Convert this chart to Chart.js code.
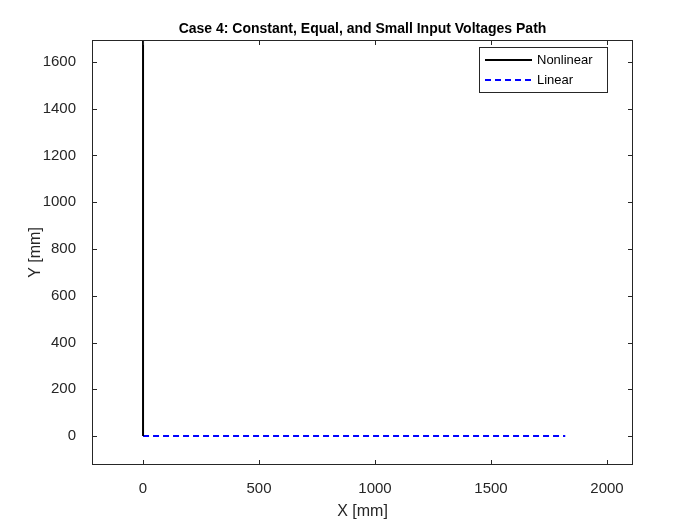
<!DOCTYPE html>
<html>
<head>
<script src="https://cdn.jsdelivr.net/npm/chart.js@4"></script>
<style>body{margin:0;background:#fff}#wrap{width:700px;height:525px}</style>
</head>
<body>
<div id="wrap"><canvas id="c"></canvas></div>
<script>
var xTicks = [0, 500, 1000, 1500, 2000];
var yTicks = [0, 200, 400, 600, 800, 1000, 1200, 1400, 1600];
var nonlinearX = [0, 0];
var nonlinearY = [0, 1750];
var linearX = [0, 1820];
var linearY = [0, 0];

function pts(xs, ys) { return xs.map(function (x, i) { return {x: x, y: ys[i]}; }); }

var frame = {
  id: 'frame',
  afterDraw: function (chart) {
    var ctx = chart.ctx, a = chart.chartArea, sx = chart.scales.x, sy = chart.scales.y;
    ctx.save();
    ctx.strokeStyle = '#262626';
    ctx.lineWidth = 1;
    ctx.strokeRect(a.left + 0.5, a.top + 0.5, a.right - a.left - 1, a.bottom - a.top - 1);
    ctx.beginPath();
    xTicks.forEach(function (t) {
      var p = Math.round(sx.getPixelForValue(t)) + 0.5;
      ctx.moveTo(p, a.bottom); ctx.lineTo(p, a.bottom - 5);
      ctx.moveTo(p, a.top); ctx.lineTo(p, a.top + 5);
    });
    yTicks.forEach(function (t) {
      var p = Math.round(sy.getPixelForValue(t)) + 0.5;
      ctx.moveTo(a.left, p); ctx.lineTo(a.left + 5, p);
      ctx.moveTo(a.right, p); ctx.lineTo(a.right - 5, p);
    });
    ctx.stroke();
    // title
    ctx.fillStyle = '#000';
    ctx.font = 'bold 14px Arial, "Liberation Sans"';
    ctx.textAlign = 'center';
    ctx.textBaseline = 'bottom';
    ctx.fillText('Case 4: Constant, Equal, and Small Input Voltages Path', (a.left + a.right) / 2, a.top - 4);
    // legend
    var lx = 479, ly = 47, lw = 128, lh = 45;
    ctx.fillStyle = '#fff';
    ctx.fillRect(lx, ly, lw, lh);
    ctx.strokeStyle = '#262626';
    ctx.strokeRect(lx + 0.5, ly + 0.5, lw, lh);
    ctx.lineWidth = 2;
    ctx.strokeStyle = '#000';
    ctx.beginPath(); ctx.moveTo(485, 60); ctx.lineTo(532, 60); ctx.stroke();
    ctx.strokeStyle = '#0000ff';
    ctx.setLineDash([6, 4]);
    ctx.beginPath(); ctx.moveTo(485, 80); ctx.lineTo(532, 80); ctx.stroke();
    ctx.setLineDash([]);
    ctx.fillStyle = '#000';
    ctx.font = '13px Arial, "Liberation Sans"';
    ctx.textAlign = 'left';
    ctx.textBaseline = 'middle';
    ctx.fillText(chart.data.datasets[0].label, 537, 60);
    ctx.fillText(chart.data.datasets[1].label, 537, 80);
    ctx.restore();
  }
};

var tickFont = {size: 15, family: 'Arial, "Liberation Sans"'};
var plain = function (v) { return String(v); };

new Chart(document.getElementById('c'), {
  type: 'scatter',
  data: {
    datasets: [
      {label: 'Nonlinear', data: pts(nonlinearX, nonlinearY), showLine: true, borderColor: '#000', borderWidth: 2, pointRadius: 0},
      {label: 'Linear', data: pts(linearX, linearY), showLine: true, borderColor: '#0000ff', borderWidth: 2, borderDash: [6, 4], pointRadius: 0}
    ]
  },
  options: {
    responsive: true,
    maintainAspectRatio: false,
    animation: false,
    layout: {padding: {top: 40, right: 67, left: 22, bottom: 0}},
    plugins: {legend: {display: false}, tooltip: {enabled: false}},
    scales: {
      x: {
        min: -220, max: 2112,
        afterFit: function (s) { s.height = 60; },
        afterBuildTicks: function (s) { s.ticks = xTicks.map(function (v) { return {value: v}; }); },
        grid: {display: false},
        border: {display: false},
        ticks: {color: '#262626', font: tickFont, padding: 7, maxRotation: 0, callback: plain},
        title: {display: true, text: 'X [mm]', color: '#262626', font: {size: 16, family: 'Arial, "Liberation Sans"'}, padding: {top: 0}}
      },
      y: {
        min: -124, max: 1694,
        afterFit: function (s) { s.width = 70; },
        afterBuildTicks: function (s) { s.ticks = yTicks.map(function (v) { return {value: v}; }); },
        grid: {display: false},
        border: {display: false},
        ticks: {color: '#262626', font: tickFont, padding: 8, callback: plain},
        title: {display: true, text: 'Y [mm]', color: '#262626', font: {size: 16, family: 'Arial, "Liberation Sans"'}}
      }
    }
  },
  plugins: [frame]
});
</script>
</body>
</html>
